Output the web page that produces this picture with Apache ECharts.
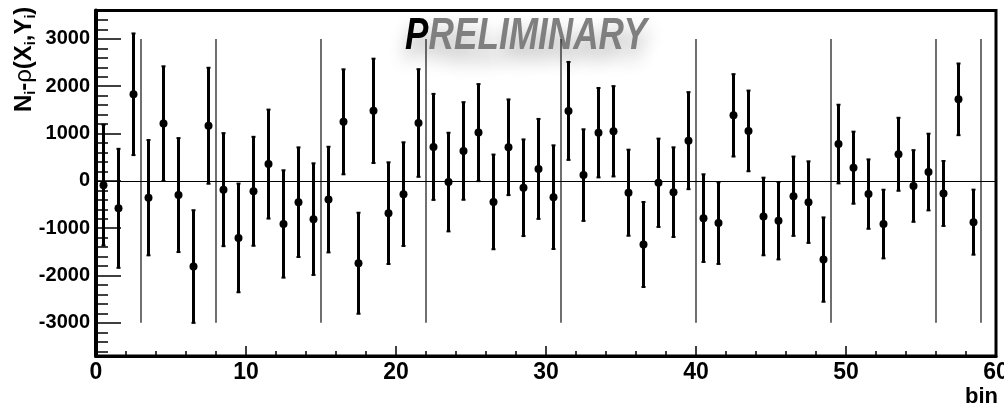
<!DOCTYPE html>
<html>
<head>
<meta charset="utf-8">
<script src="https://cdn.jsdelivr.net/npm/echarts@6/dist/echarts.min.js"></script>
<style>
html, body { margin: 0; padding: 0; background: #fff; }
#main { width: 1004px; height: 409px; }
</style>
</head>
<body>
<div id="main"></div>
<script>
// bin centres and the residual N_i - rho(X_i,Y_i) with its error
var binCenters = [0.5, 1.5, 2.5, 3.5, 4.5, 5.5, 6.5, 7.5, 8.5, 9.5,
    10.5, 11.5, 12.5, 13.5, 14.5, 15.5, 16.5, 17.5, 18.5, 19.5,
    20.5, 21.5, 22.5, 23.5, 24.5, 25.5, 26.5, 27.5, 28.5, 29.5,
    30.5, 31.5, 32.5, 33.5, 34.5, 35.5, 36.5, 37.5, 38.5, 39.5,
    40.5, 41.5, 42.5, 43.5, 44.5, 45.5, 46.5, 47.5, 48.5, 49.5,
    50.5, 51.5, 52.5, 53.5, 54.5, 55.5, 56.5, 57.5, 58.5];
var values = [-90, -580, 1830, -355, 1210, -300, -1810, 1165, -185, -1205,
    -220, 355, -910, -450, -808, -395, 1248, -1740, 1480, -682,
    -280, 1223, 718, -25, 632, 1020, -444, 710, -145, 253,
    -344, 1478, 122, 1018, 1048, -250, -1344, -40, -238, 850,
    -787, -892, 1385, 1056, -752, -842, -324, -449, -1663, 778,
    279, -279, -912, 562, -108, 187, -266, 1723, -872];
var errors = [1275, 1257, 1285, 1218, 1211, 1204, 1190, 1225, 1194, 1148,
    1151, 1151, 1134, 1158, 1179, 1116, 1109, 1067, 1102, 1074,
    1095, 1137, 1120, 1042, 1031, 1025, 1000, 1011, 1021, 1056,
    1095, 1035, 968, 944, 954, 909, 898, 933, 947, 1025,
    926, 863, 870, 852, 820, 817, 838, 862, 891, 831,
    761, 733, 725, 771, 757, 810, 686, 757, 687];

// vertical separators
var boundaries = [3, 8, 15, 22, 31, 40, 49, 56, 59];
var boundaryLow = -3000;
var boundaryHigh = 3000;

// axes
var yMin = -3700, yMax = 3600;
var yTicks = [-3000, -2000, -1000, 0, 1000, 2000, 3000];
var yMinorStep = 200;
var yMinorTicks = [];
for (var t = -3600; t <= 3400; t += yMinorStep) {
    yMinorTicks.push(t);
}

var FONT = 'Liberation Sans, Arial, Helvetica, sans-serif';

var pointData = [];
for (var i = 0; i < values.length; i++) {
    pointData.push([binCenters[i], values[i], errors[i]]);
}
var boundaryData = boundaries.map(function (b) { return [b, boundaryLow, boundaryHigh]; });

function renderPoint(params, api) {
    var x = api.value(0), y = api.value(1), e = api.value(2);
    var top = api.coord([x, y + e]);
    var bot = api.coord([x, y - e]);
    var c = api.coord([x, y]);
    return {
        type: 'group',
        children: [
            { type: 'line', shape: { x1: top[0], y1: top[1], x2: bot[0], y2: bot[1] },
              style: { stroke: '#000', lineWidth: 3 } },
            { type: 'rect', shape: { x: top[0] - 2, y: top[1] - 1, width: 4, height: 2 },
              style: { fill: '#000' } },
            { type: 'rect', shape: { x: bot[0] - 2, y: bot[1] - 1, width: 4, height: 2 },
              style: { fill: '#000' } },
            { type: 'circle', shape: { cx: c[0], cy: c[1], r: 4 },
              style: { fill: '#000' } }
        ]
    };
}

function renderBoundary(params, api) {
    var p1 = api.coord([api.value(0), api.value(1)]);
    var p2 = api.coord([api.value(0), api.value(2)]);
    return {
        type: 'line',
        shape: { x1: p1[0], y1: p1[1], x2: p2[0], y2: p2[1] },
        style: { stroke: '#222', lineWidth: 1.3 }
    };
}

function plainNumber(v) {
    return String(v);
}

var option = {
    animation: false,
    backgroundColor: '#fff',
    grid: {
        left: 96, right: 8, top: 10.5, bottom: 53,
        outerBoundsMode: 'none',
        containLabel: false,
        show: true, borderColor: '#000', borderWidth: 3, backgroundColor: 'transparent'
    },
    xAxis: {
        type: 'value',
        min: 0, max: 60, interval: 10,
        axisLine: { onZero: false, lineStyle: { color: '#000', width: 3 } },
        axisTick: { inside: true, length: 10, lineStyle: { color: '#000', width: 1.5 } },
        minorTick: { show: true, splitNumber: 5, length: 5, lineStyle: { color: '#000', width: 1.5 } },
        axisLabel: { color: '#000', fontFamily: FONT, fontWeight: 'bold', fontSize: 23, margin: 5,
            showMinLabel: true, showMaxLabel: true, formatter: plainNumber },
        splitLine: { show: false }
    },
    yAxis: [{
        type: 'value',
        min: yMin, max: yMax,
        position: 'left',
        axisLine: { show: true, onZero: false, lineStyle: { color: '#000', width: 4 } },
        axisTick: { inside: true, length: 25, customValues: yTicks, lineStyle: { color: '#000', width: 1.5 } },
        axisLabel: { color: '#000', fontFamily: FONT, fontWeight: 'bold', fontSize: 20, margin: 6,
            customValues: yTicks, formatter: plainNumber },
        splitLine: { show: false }
    }, {
        type: 'value',
        min: yMin, max: yMax,
        position: 'left',
        axisLine: { show: false },
        axisTick: { show: true, inside: true, length: 12, customValues: yMinorTicks,
            lineStyle: { color: '#000', width: 1.5 } },
        axisLabel: { show: false },
        splitLine: { show: false }
    }],
    series: [{
        type: 'custom',
        renderItem: renderBoundary,
        data: boundaryData,
        silent: true,
        markLine: {
            silent: true,
            symbol: ['none', 'none'],
            label: { show: false },
            lineStyle: { color: '#000', width: 1, type: 'solid' },
            data: [{ yAxis: 0 }]
        }
    }, {
        type: 'custom',
        renderItem: renderPoint,
        data: pointData,
        z: 5
    }],
    graphic: [{
        type: 'text',
        x: 405, y: 37,
        scaleX: 0.8,
        z: 1,
        style: {
            text: '{p|P}{r|RELIMINARY}',
            align: 'left',
            verticalAlign: 'middle',
            rich: {
                p: { fontFamily: FONT, fontStyle: 'italic', fontWeight: 'bold', fontSize: 44, fill: '#000',
                    textShadowBlur: 18, textShadowColor: 'rgba(0,0,0,0.3)', textShadowOffsetY: 12 },
                r: { fontFamily: FONT, fontStyle: 'italic', fontWeight: 'bold', fontSize: 44, fill: '#7f7f7f',
                    textShadowBlur: 18, textShadowColor: 'rgba(0,0,0,0.3)', textShadowOffsetY: 12 }
            }
        }
    }, {
        type: 'text',
        x: 24, y: 112,
        rotation: Math.PI / 2,
        style: {
            text: '{b|N}{s|i}{b|-}{r|ρ}{b|(X}{s|i}{b|,Y}{s|i}{b|)}',
            align: 'left',
            verticalAlign: 'middle',
            rich: {
                b: { fontFamily: FONT, fontWeight: 'bold', fontSize: 24, fill: '#000', lineHeight: 28, verticalAlign: 'middle' },
                r: { fontFamily: FONT, fontWeight: 'normal', fontSize: 24, fill: '#000', lineHeight: 28, verticalAlign: 'middle' },
                s: { fontFamily: FONT, fontWeight: 'bold', fontSize: 14, fill: '#000', lineHeight: 28, verticalAlign: 'bottom' }
            }
        }
    }, {
        type: 'text',
        x: 998, y: 397,
        style: {
            text: 'bin',
            align: 'right',
            verticalAlign: 'middle',
            fontFamily: FONT, fontWeight: 'bold', fontSize: 22, fill: '#000'
        }
    }]
};

var chart = echarts.init(document.getElementById('main'));
chart.setOption(option);
window.addEventListener('resize', function () {
    chart.resize();
});
</script>
</body>
</html>
